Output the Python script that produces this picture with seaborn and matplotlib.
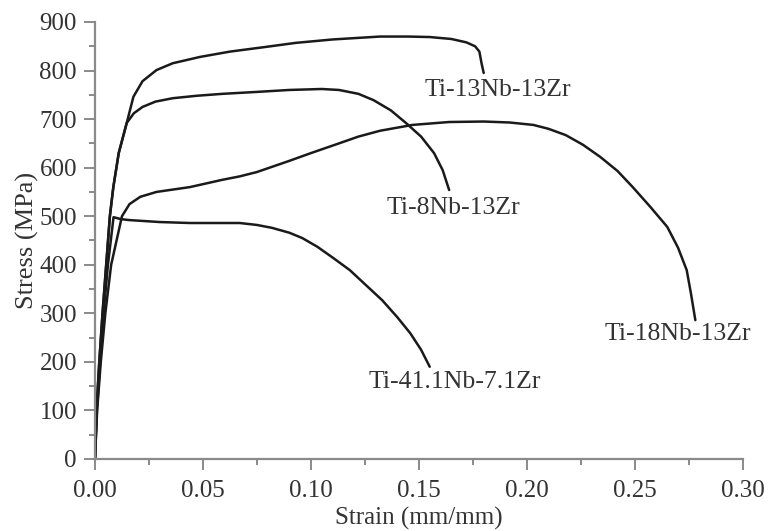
import matplotlib
matplotlib.use("Agg")
import matplotlib.pyplot as plt
import seaborn as sns
import pandas as pd
from matplotlib.ticker import MultipleLocator

# Engineering stress-strain curves of four Ti-Nb-Zr alloys
strain_13nb = [0, 0.0007, 0.002, 0.0035, 0.0052, 0.0069, 0.0085, 0.011, 0.0147,
               0.0178, 0.022, 0.0285, 0.036, 0.0486, 0.0625, 0.078, 0.093, 0.11,
               0.132, 0.145, 0.155, 0.165, 0.172, 0.176, 0.178, 0.179, 0.180]
stress_13nb = [0, 100, 200, 300, 400, 500, 560, 630, 692,
               746, 778, 801, 815, 828, 839, 848, 857, 864,
               870, 870, 869, 865, 858, 850, 839, 815, 795]

strain_8nb = [0, 0.0007, 0.002, 0.0035, 0.0052, 0.0069, 0.0085, 0.011, 0.0147,
              0.018, 0.022, 0.028, 0.036, 0.047, 0.059, 0.075, 0.090, 0.105,
              0.113, 0.122, 0.129, 0.137, 0.144, 0.151, 0.157, 0.161, 0.164]
stress_8nb = [0, 100, 200, 300, 400, 500, 560, 630, 692,
              712, 725, 736, 743, 748, 752, 756, 760, 762,
              760, 752, 739, 718, 692, 664, 630, 595, 554]

strain_18nb = [0, 0.001, 0.0027, 0.0048, 0.0075, 0.0125, 0.016, 0.021, 0.0285,
               0.044, 0.059, 0.067, 0.075, 0.090, 0.100, 0.113, 0.122, 0.132,
               0.147, 0.164, 0.180, 0.192, 0.203, 0.210, 0.218, 0.226, 0.234,
               0.242, 0.249, 0.257, 0.265, 0.270, 0.274, 0.276, 0.278]
stress_18nb = [0, 100, 200, 300, 400, 500, 525, 540, 550,
               560, 575, 582, 591, 614, 630, 650, 664, 676,
               688, 694, 695, 693, 688, 680, 667, 647, 622,
               593, 560, 520, 478, 435, 389, 340, 286]

strain_41nb = [0, 0.0009, 0.0024, 0.004, 0.006, 0.0086, 0.012, 0.016, 0.030,
               0.044, 0.067, 0.075, 0.082, 0.090, 0.096, 0.103, 0.110, 0.118,
               0.125, 0.133, 0.140, 0.146, 0.151, 0.155]
stress_41nb = [0, 100, 200, 300, 400, 498, 494, 492, 488,
               486, 486, 482, 476, 466, 455, 437, 415, 389,
               360, 327, 292, 259, 225, 190]

alloys = ["Ti-13Nb-13Zr", "Ti-8Nb-13Zr", "Ti-18Nb-13Zr", "Ti-41.1Nb-7.1Zr"]
label_strain = [0.1866, 0.166, 0.270, 0.1667]
label_stress = [760, 517, 257, 159]

frames = []
for name, x, y in zip(alloys,
                      [strain_13nb, strain_8nb, strain_18nb, strain_41nb],
                      [stress_13nb, stress_8nb, stress_18nb, stress_41nb]):
    frames.append(pd.DataFrame({"strain": x, "stress": y, "alloy": name}))
df = pd.concat(frames, ignore_index=True)

sns.set_style("ticks")
plt.rcParams["font.family"] = ["Liberation Serif", "DejaVu Serif"]
text_color = "#333333"
axis_color = "#8a8a8a"

fig = plt.figure(figsize=(7.69, 5.31), dpi=100)
ax = fig.add_axes([0.1235, 0.1356, 0.8425, 0.823])

for name in alloys:
    sns.lineplot(data=df[df["alloy"] == name], x="strain", y="stress",
                 sort=False, estimator=None, color="#1a1a1a", linewidth=1.8,
                 ax=ax, legend=False)

for name, lx, ly in zip(alloys, label_strain, label_stress):
    ax.text(lx, ly, name, ha="center", va="center", fontsize=18.5,
            color=text_color)

ax.set_xlim(0, 0.30)
ax.set_ylim(0, 900)
ax.xaxis.set_major_locator(MultipleLocator(0.05))
ax.xaxis.set_minor_locator(MultipleLocator(0.025))
ax.yaxis.set_major_locator(MultipleLocator(100))
ax.yaxis.set_minor_locator(MultipleLocator(50))
ax.set_xticklabels([f"{v:.2f}" for v in ax.get_xticks()])

sns.despine(ax=ax)
for side in ("left", "bottom"):
    ax.spines[side].set_color(axis_color)
    ax.spines[side].set_linewidth(1.6)
ax.tick_params(which="major", length=8, width=1.4, color=axis_color,
               labelsize=18, labelcolor=text_color)
ax.tick_params(axis="x", which="major", pad=7)
ax.tick_params(axis="y", which="major", pad=5)
ax.tick_params(which="minor", length=4.5, width=1.4, color=axis_color)

ax.set_xlabel("Strain (mm/mm)", fontsize=18, color=text_color, labelpad=4)
ax.set_ylabel("Stress (MPa)", fontsize=19, color=text_color, labelpad=0)

fig.savefig("out.png", dpi=100)
